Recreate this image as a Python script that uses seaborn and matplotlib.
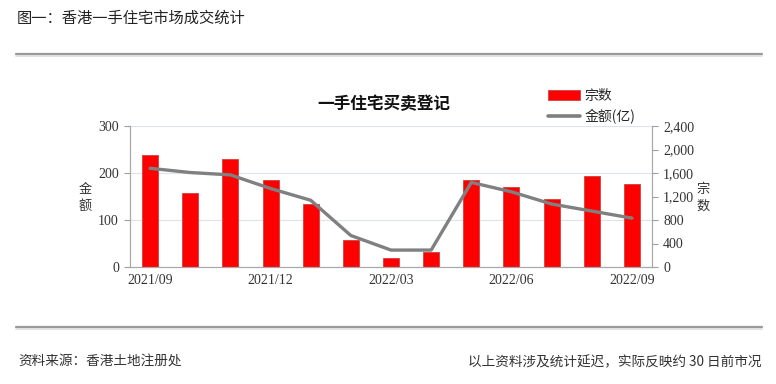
import numpy as np
import pandas as pd
import matplotlib
matplotlib.use("Agg")
import matplotlib.pyplot as plt
import seaborn as sns
from matplotlib.patches import Patch
from matplotlib.lines import Line2D

months = ["2021/09", "2021/10", "2021/11", "2021/12", "2022/01", "2022/02", "2022/03",
          "2022/04", "2022/05", "2022/06", "2022/07", "2022/08", "2022/09"]
counts = [1900, 1264, 1838, 1480, 1072, 460, 148, 255, 1480, 1356, 1157, 1544, 1408]
amounts = [210, 201, 196, 167, 142, 67, 36, 36, 180, 160, 134, 119, 104]
xtick_labels = ["2021/09", "2021/12", "2022/03", "2022/06", "2022/09"]
left_ticks = [0, 100, 200, 300]
right_ticks = [0, 400, 800, 1200, 1600, 2000, 2400]

sns.set_theme(style="white")
plt.rcParams['font.family'] = ['Noto Sans CJK SC', 'DejaVu Sans']
CJK = ['Noto Sans CJK SC', 'DejaVu Sans']
NUM = ['Liberation Serif', 'DejaVu Serif']

df = pd.DataFrame({"month": months, "count": counts, "amount": amounts})
df["pos"] = np.arange(len(df))

fig = plt.figure(figsize=(7.76, 3.84), dpi=100)
ax = fig.add_axes([130/776, 1-267/384, 522/776, 141/384])
ax2 = ax.twinx()

# grid (matches left-axis ticks)
ratio = right_ticks[-1] / left_ticks[-1]
ax.hlines([t * ratio for t in left_ticks[1:]], -0.5, len(months) - 0.5,
          color="#DCE3EC", lw=0.8, zorder=0)

sns.barplot(data=df, x="month", y="count", ax=ax, color="#FF0000", width=0.4,
            saturation=1, edgecolor="#D04040", linewidth=0.6, zorder=2)
sns.lineplot(data=df, x="pos", y="amount", ax=ax2, color="#808080", lw=2.4, zorder=3)

ax.set_xlim(-0.5, len(months) - 0.5)
ax.set_ylim(0, right_ticks[-1])
ax2.set_ylim(0, left_ticks[-1])

# bars axis ticks on right, line axis ticks on left
ax.yaxis.tick_right()
ax2.yaxis.tick_left()
ax.set_yticks(right_ticks)
ax.set_yticklabels([f"{t:,}" for t in right_ticks], family=NUM, fontsize=10, color="#333333")
ax2.set_yticks(left_ticks)
ax2.set_yticklabels([str(t) for t in left_ticks], family=NUM, fontsize=10, color="#333333")

pos_lbl = [months.index(m) for m in xtick_labels]
ax.set_xticks(pos_lbl)
ax.set_xticklabels(xtick_labels, family=NUM, fontsize=10, color="#333333")
ax.set_xticks(np.arange(-0.5, len(months), 1), minor=True)
ax.tick_params(axis="x", which="major", length=0, pad=5)
ax.tick_params(axis="x", which="minor", length=4, width=0.8, color="#A0A0A0", direction="out")
ax.tick_params(axis="y", length=4, width=0.8, color="#A0A0A0", direction="out", pad=4)
ax2.tick_params(axis="y", length=4, width=0.8, color="#A0A0A0", direction="out", pad=4)
ax.set_xlabel("")
ax.set_ylabel("")
ax2.set_xlabel("")
ax2.set_ylabel("")

for a in (ax, ax2):
    a.spines["top"].set_visible(False)
    for s in ("left", "right", "bottom"):
        a.spines[s].set_color("#A8A8A8")
        a.spines[s].set_linewidth(0.8)
    a.patch.set_visible(False)

# axis labels (vertical stacked)
fig.text(85/776, 1-198/384, "金\n额", ha="center", va="center", fontsize=9.5,
         family=CJK, color="#333333", linespacing=1.3)
fig.text(703/776, 1-198/384, "宗\n数", ha="center", va="center", fontsize=9.5,
         family=CJK, color="#333333", linespacing=1.3)

# chart title
fig.text(384/776, 1-104/384, "一手住宅买卖登记", ha="center", va="center",
         fontsize=12, fontweight="bold", family=CJK, color="#111111")

# legend
handles = [Patch(facecolor="#FF0000", edgecolor="#D04040", linewidth=0.6),
           Line2D([0], [0], color="#808080", lw=2.6)]
fig.legend(handles, ["宗数", "金额(亿)"], loc="upper left",
           bbox_to_anchor=(548/776, 1-89/384), frameon=False, fontsize=10,
           handlelength=2.3, handleheight=0.8, handletextpad=0.3, labelspacing=0.45,
           borderaxespad=0, borderpad=0)

# header and footer
fig.text(17/776, 1-18/384, "图一：香港一手住宅市场成交统计", ha="left", va="center",
         fontsize=11, family=CJK, color="#222222")
fig.add_artist(Line2D([16/776, 762/776], [1-54/384, 1-54/384], color="#9A9A9A", lw=1.6))
fig.add_artist(Line2D([16/776, 762/776], [1-56/384, 1-56/384], color="#DDDDDD", lw=1.2))
fig.add_artist(Line2D([16/776, 762/776], [1-327/384, 1-327/384], color="#9A9A9A", lw=1.6))
fig.add_artist(Line2D([16/776, 762/776], [1-329/384, 1-329/384], color="#DDDDDD", lw=1.2))
fig.text(18/776, 1-362/384, "资料来源：香港土地注册处", ha="left", va="center",
         fontsize=9.8, family=CJK, color="#333333", style="italic")
fig.text(762/776, 1-362/384, "以上资料涉及统计延迟，实际反映约 30 日前市况", ha="right",
         va="center", fontsize=9.8, family=CJK, color="#333333", style="italic")

fig.savefig("out.png", dpi=100)
